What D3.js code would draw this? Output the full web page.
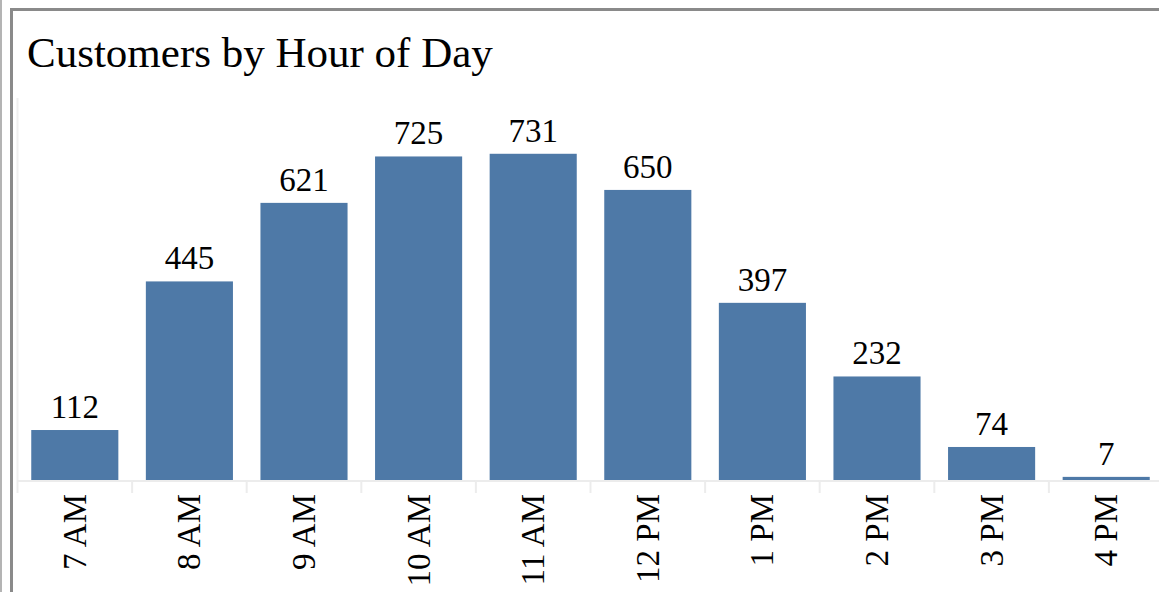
<!DOCTYPE html>
<html>
<head>
<meta charset="utf-8">
<script src="https://cdn.jsdelivr.net/npm/d3@7"></script>
<style>
	body { margin: 0; background: #fff; }
	svg { display: block; font-family: "Liberation Serif", "Times New Roman", serif; }
</style>
</head>
<body>
<div id="chart"></div>
<script>
const hours = ['7 AM', '8 AM', '9 AM', '10 AM', '11 AM', '12 PM', '1 PM', '2 PM', '3 PM', '4 PM']
const customers = [112, 445, 621, 725, 731, 650, 397, 232, 74, 7]
const title = 'Customers by Hour of Day'

const W = 1159, H = 592
const data = hours.map((h, i) => ({label: h, value: customers[i]}))

const $svg = d3.select('#chart').append('svg')
	.attr('width', W)
	.attr('height', H)

// outer frames
$svg.append('line')
	.attr('x1', 1).attr('x2', 1).attr('y1', 0).attr('y2', H)
	.attr('stroke', '#b4b4b4').attr('stroke-width', 2)
$svg.append('path')
	.attr('d', `M${11.5},${H} V${9.5} H${W}`)
	.attr('fill', 'none')
	.attr('stroke', '#8a8a8a').attr('stroke-width', 3)

// title
$svg.append('text')
	.attr('x', 27)
	.attr('y', 67)
	.attr('font-size', 43)
	.attr('fill', '#000')
	.text(title)

const pane = {left: 17.5, top: 98, bottom: 480}
const step = 114.6

let x = d3.scaleBand()
	.domain(hours)
	.range([pane.left, pane.left + step * hours.length])
	.paddingInner(0.24)
	.paddingOuter(0.12)

let y = d3.scaleLinear()
	.domain([0, 856])
	.range([pane.bottom, pane.top])

// pane left border
$svg.append('line')
	.attr('x1', pane.left).attr('x2', pane.left)
	.attr('y1', pane.top).attr('y2', pane.bottom)
	.attr('stroke', '#efefef').attr('stroke-width', 2)

// bars
const $g = $svg.append('g')

$g.selectAll('.bar')
	.data(data)
	.enter()
	.append('rect')
	.attr('class', 'bar')
	.attr('x', d => x(d.label))
	.attr('width', x.bandwidth())
	.attr('y', d => y(d.value))
	.attr('height', d => y(0) - y(d.value))
	.attr('fill', '#4e79a7')

// value labels
$g.selectAll('.val')
	.data(data)
	.enter()
	.append('text')
	.attr('class', 'val')
	.attr('x', d => x(d.label) + x.bandwidth() / 2)
	.attr('y', d => y(d.value) - 12)
	.attr('text-anchor', 'middle')
	.attr('font-size', 33)
	.attr('fill', '#000')
	.text(d => d.value)

// x axis: baseline, separators and rotated labels
const $axis = $svg.append('g')
	.attr('class', 'axis axis--x')

$axis.append('line')
	.attr('x1', pane.left).attr('x2', W)
	.attr('y1', pane.bottom + 1).attr('y2', pane.bottom + 1)
	.attr('stroke', '#ececec').attr('stroke-width', 2)

$axis.selectAll('.sep')
	.data(d3.range(hours.length + 1))
	.enter()
	.append('line')
	.attr('class', 'sep')
	.attr('x1', i => pane.left + i * x.step())
	.attr('x2', i => pane.left + i * x.step())
	.attr('y1', pane.bottom)
	.attr('y2', pane.bottom + 13)
	.attr('stroke', '#ececec').attr('stroke-width', 2)

$axis.selectAll('.lbl')
	.data(hours)
	.enter()
	.append('text')
	.attr('class', 'lbl')
	.attr('transform', d => `translate(${x(d) + x.bandwidth() / 2 + 11}, ${pane.bottom + 14}) rotate(-90)`)
	.attr('text-anchor', 'end')
	.attr('font-size', 33)
	.attr('fill', '#000')
	.text(d => d)
</script>
</body>
</html>
